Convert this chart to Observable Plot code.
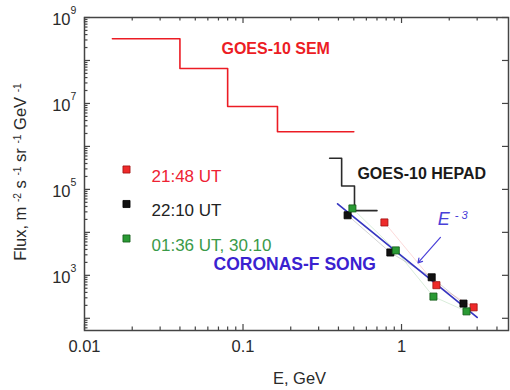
<!DOCTYPE html>
<html><head><meta charset="utf-8">
<script src="https://cdn.jsdelivr.net/npm/d3@7"></script>
<script src="https://cdn.jsdelivr.net/npm/@observablehq/plot@0.6"></script>
<style>body{margin:0;background:#fff}</style>
</head><body><div id="chart"></div>
<script>
// ---- data ----
const semE = [0.015, 0.04, 0.08, 0.165, 0.5];
const semFlux = [3.2e8, 6.5e7, 8.5e6, 2.2e6, 2.2e6];
const hepadE = [0.352, 0.419, 0.505, 0.70];
const hepadFlux = [5.3e5, 1.2e5, 3.2e4, 3.2e4];
const fitE = [0.395, 3.0];
const fitFlux = [4.6e4, 105];
const seriesNames = ["21:48 UT", "22:10 UT", "01:36 UT, 30.10"];
const songE = [[0.78, 1.66, 2.85], [0.457, 0.85, 1.55, 2.46], [0.49, 0.92, 1.59, 2.57]];
const songFlux = [[1.7e4, 590, 180], [2.5e4, 3.4e3, 900, 220], [3.6e4, 3.8e3, 320, 145]];
const xTickLabels = [0.01, 0.1, 1];
const yTickLabels = [1e3, 1e5, 1e7, 1e9];
const annotations = [
  {text: "GOES-10 SEM", x: 0.0731, y: 1.9e8, color: "#ec1c24", size: 16},
  {text: "GOES-10 HEPAD", x: 0.527, y: 2.3e5, color: "#1a1a1a", size: 16},
  {text: "CORONAS-F SONG", x: 0.0652, y: 1.75e3, color: "#3a22d0", size: 17.5}
];
const fitLabel = {text: "E-3", x: 1.69, y: 2.0e4};
const fitArrow = {x1: 1.76, y1: 7.6e3, x2: 1.27, y2: 1.95e3};

// ---- styling ----
const fills = ["#ee2a2a", "#111111", "#2a9a34"];
const strokes = ["#a01010", "#000000", "#145a18"];
const textColors = ["#ee2233", "#222222", "#3a9a48"];
const blue = "#3535c0";
const W = 510, H = 390, mL = 84, mR = 2, mT = 17, mB = 60;
const pw = W - mL - mR, ph = H - mT - mB;
const xMax = 4.73, yMin = 52, yMax = 1e9;

const semPts = semE.map((e, i) => ({e, f: semFlux[i]}));
const hepadPts = hepadE.map((e, i) => ({e, f: hepadFlux[i]}));
const fitPts = fitE.map((e, i) => ({e, f: fitFlux[i]}));
const songPts = seriesNames.flatMap((s, si) => songE[si].map((e, i) => ({s, si, e, f: songFlux[si][i]})));

// ticks
const xMajor = [0.01, 0.1, 1];
const xMinor = [];
for (const d of xMajor) for (let k = 2; k <= 9; k++) { const v = d * k; if (v <= xMax) xMinor.push(v); }
const yMajor = [];
for (let p = 2; p <= 9; p++) yMajor.push(Math.pow(10, p));
const yMinor = [];
for (let p = 1; p <= 8; p++) for (let k = 2; k <= 9; k++) { const v = k * Math.pow(10, p); if (v >= yMin && v <= yMax) yMinor.push(v); }

const tickStyle = {stroke: "#444", strokeWidth: 1.2};
const marks = [
  // inward ticks on all sides
  Plot.tickX(xMajor, {x: d => d, insetTop: ph - 6, ...tickStyle}),
  Plot.tickX(xMinor, {x: d => d, insetTop: ph - 3.5, ...tickStyle}),
  Plot.tickX(xMajor, {x: d => d, insetBottom: ph - 6, ...tickStyle}),
  Plot.tickX(xMinor, {x: d => d, insetBottom: ph - 3.5, ...tickStyle}),
  Plot.tickY(yMajor, {y: d => d, insetRight: pw - 6, ...tickStyle}),
  Plot.tickY(yMinor, {y: d => d, insetRight: pw - 3.5, ...tickStyle}),
  Plot.tickY(yMajor, {y: d => d, insetLeft: pw - 6, ...tickStyle}),
  Plot.frame({stroke: "#444", strokeWidth: 1.5}),
  // tick labels
  Plot.text(xTickLabels, {x: d => d, frameAnchor: "bottom", dy: 21, text: d => String(d), textAnchor: "middle", fontSize: 16.5, fill: "#2a2a2a"}),
  Plot.text(yTickLabels, {y: d => d, frameAnchor: "left", dx: -14, dy: 2, text: () => "10", textAnchor: "end", fontSize: 16.5, fill: "#2a2a2a"}),
  Plot.text(yTickLabels, {y: d => d, frameAnchor: "left", dx: -14, dy: -7, text: d => String(Math.round(Math.log10(d))), textAnchor: "start", fontSize: 10.5, fill: "#2a2a2a"}),
  // axis titles
  Plot.text(["Flux, m-2 s-1 sr-1 GeV-1"], {frameAnchor: "left", dx: -64, dy: -2, rotate: -90, text: d => d, textAnchor: "middle", fontSize: 16.5, fill: "#2a2a2a"}),
  Plot.text(["E, GeV"], {frameAnchor: "bottom", dx: 3, dy: 53, text: d => d, textAnchor: "middle", fontSize: 16.5, fill: "#2a2a2a"}),
  // GOES steps
  Plot.line(semPts, {x: "e", y: "f", curve: "step-after", stroke: "#ec1c24", strokeWidth: 1.6}),
  Plot.line(hepadPts, {x: "e", y: "f", curve: "step-after", stroke: "#2a2a2a", strokeWidth: 1.6}),
  // faint connecting lines
  Plot.line(songPts, {x: "e", y: "f", z: "s", stroke: d => fills[d.si], strokeOpacity: 0.18, strokeWidth: 1}),
  // E^-3 fit
  Plot.line(fitPts, {x: "e", y: "f", stroke: blue, strokeWidth: 1.7}),
  Plot.arrow([fitArrow], {x1: "x1", y1: "y1", x2: "x2", y2: "y2", stroke: "#4a40d8", strokeWidth: 1.2, headLength: 6}),
  Plot.text([fitLabel], {x: "x", y: "y", text: "text", textAnchor: "start", fontSize: 18, fontStyle: "italic", fill: "#4a40d8"}),
  // data points
  Plot.dot(songPts, {x: "e", y: "f", symbol: "square", r: 4, fill: d => fills[d.si], stroke: d => strokes[d.si], strokeWidth: 0.8}),
  // annotations
  Plot.text(annotations, {x: "x", y: "y", text: "text", fill: d => d.color, textAnchor: "start", fontSize: d => d.size, fontWeight: "bold"})
];
// in-plot legend
seriesNames.forEach((name, i) => {
  marks.push(Plot.dot([name], {frameAnchor: "top-left", dx: 42, dy: 152 + i * 34.5, symbol: "square", r: 4, fill: fills[i], stroke: strokes[i], strokeWidth: 0.8}));
  marks.push(Plot.text([name], {frameAnchor: "top-left", dx: 67, dy: 152 + i * 34.5, text: d => d, textAnchor: "start", fontSize: 17, fill: textColors[i]}));
});

const chart = Plot.plot({
  width: W, height: H,
  marginLeft: mL, marginRight: mR, marginTop: mT, marginBottom: mB,
  x: {type: "log", domain: [0.01, xMax], axis: null},
  y: {type: "log", domain: [yMin, yMax], axis: null},
  style: {fontFamily: "'Liberation Sans', Arial, Helvetica, sans-serif", fontSize: "16px", background: "#fff", overflow: "visible"},
  marks
});
document.getElementById("chart").appendChild(chart);

// superscripts in real text
function superscript(plain, parts) {
  d3.select(chart).selectAll("text").filter(function () { return this.textContent === plain; }).each(function () {
    const t = d3.select(this);
    t.text(null);
    parts.forEach(([s, sup]) => {
      const sp = t.append("tspan").text(s);
      if (sup) sp.attr("baseline-shift", "super").attr("font-size", "0.62em");
    });
  });
}
superscript("Flux, m-2 s-1 sr-1 GeV-1", [["Flux, m ", 0], ["-2", 1], [" s ", 0], ["-1", 1], [" sr ", 0], ["-1", 1], [" GeV ", 0], ["-1", 1]]);
superscript("E-3", [["E ", 0], ["- 3", 1]]);
</script>
</body></html>
